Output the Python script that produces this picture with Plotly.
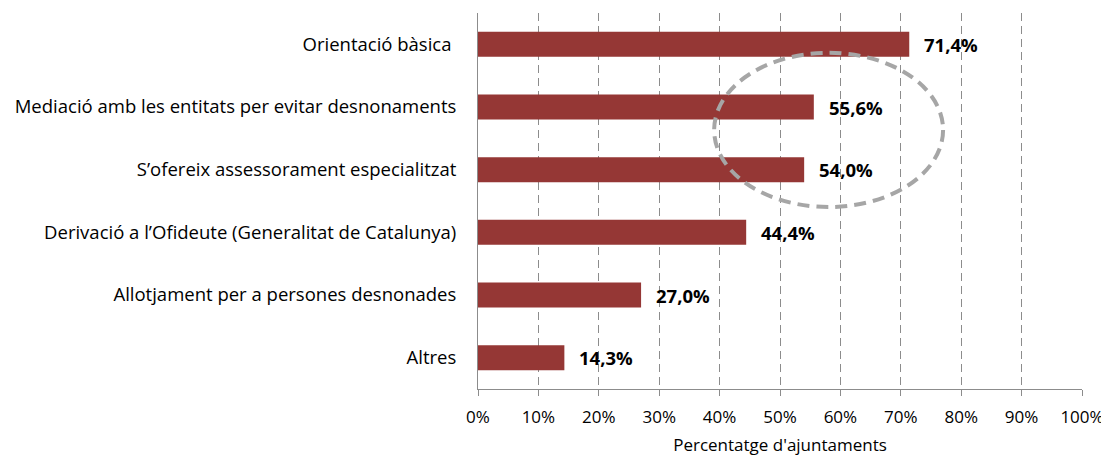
import plotly.graph_objects as go

categories = [
    "Orientació bàsica\u00a0",
    "Mediació amb les entitats per evitar desnonaments",
    "S\u2019ofereix assessorament especialitzat",
    "Derivació a l\u2019Ofideute (Generalitat de Catalunya)",
    "Allotjament per a persones desnonades",
    "Altres",
]
values = [71.4, 55.6, 54.0, 44.4, 27.0, 14.3]
labels = ["71,4%", "55,6%", "54,0%", "44,4%", "27,0%", "14,3%"]
tick_vals = [0, 10, 20, 30, 40, 50, 60, 70, 80, 90, 100]
tick_text = ["0%", "10%", "20%", "30%", "40%", "50%", "60%", "70%", "80%", "90%", "100%"]

FONT = "'Open Sans', sans-serif"
BAR = "#953735"

fig = go.Figure()
fig.add_trace(go.Bar(
    x=values, y=categories, orientation="h",
    marker=dict(color=BAR, line=dict(width=0)),
    width=0.4, hoverinfo="skip",
))

for c, v, t in zip(categories, values, labels):
    fig.add_annotation(x=v, y=c, text="<b>%s</b>" % t, showarrow=False,
                       xanchor="left", xshift=13, yshift=0,
                       font=dict(family=FONT, size=18.5, color="#000000"))

# highlight ellipse
fig.add_shape(type="circle", xref="x", yref="paper",
              x0=39.1, x1=77.0, y0=0.484, y1=0.894,
              line=dict(color="#a6a6a6", width=4, dash="12px,7px"))

fig.update_layout(
    width=1101, height=448,
    margin=dict(l=470, r=27, t=5, b=67),
    paper_bgcolor="white", plot_bgcolor="white",
    showlegend=False,
    font=dict(family=FONT, size=16, color="#000000"),
    xaxis=dict(
        range=[0, 100], tickvals=tick_vals, ticktext=tick_text,
        showgrid=True, gridcolor="#8c8c8c", griddash="8px,5px", gridwidth=1,
        showline=True, linecolor="#8c8c8c", linewidth=1,
        ticks="outside", ticklen=6, tickcolor="#8c8c8c",
        ticklabelstandoff=7,
        tickfont=dict(family=FONT, size=17),
        title=dict(text="Percentatge d'ajuntaments", font=dict(family=FONT, size=17), standoff=13),
        zeroline=False, fixedrange=True, automargin=False,
    ),
    yaxis=dict(
        categoryorder="array", categoryarray=categories,
        autorange="reversed",
        showline=True, linecolor="#8c8c8c", linewidth=1,
        showgrid=False, ticks="", ticklabelstandoff=17,
        tickfont=dict(family=FONT, size=18.5),
        fixedrange=True, automargin=False,
    ),
)

fig.write_html("out.html")
